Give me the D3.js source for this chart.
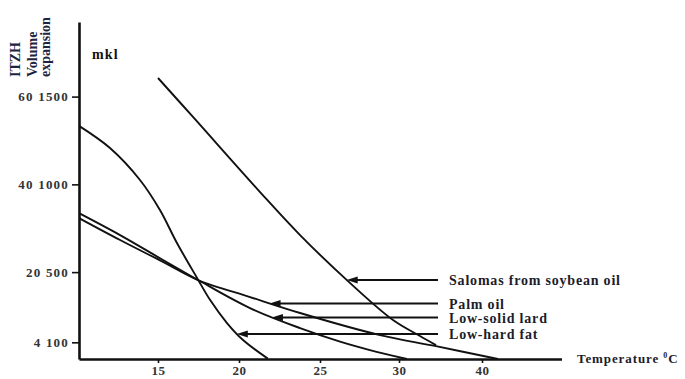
<!DOCTYPE html>
<html>
<head>
<meta charset="utf-8">
<script src="https://cdn.jsdelivr.net/npm/d3@7"></script>
<style>
  body { margin: 0; background: #fff; }
  svg text { font-family: "Liberation Serif", "Times New Roman", serif; font-weight: bold; }
</style>
</head>
<body>
<svg id="svg" width="685" height="379"></svg>
<script>
// data (temperature in degrees C, volume expansion in mkl)
const xTicks = [15, 20, 25, 30, 40];
const yTicksVolume = [1500, 1000, 500, 100];
const yTicksItzh = [60, 40, 20, 4];

const seriesNames = ["Salomas from soybean oil", "Palm oil", "Low-solid lard", "Low-hard fat"];

const salomasTemp = [15, 17.16, 21.3, 23.77, 26.84, 29.62, 32.53, 34.46];
const salomasVol  = [1606, 1384, 956, 711, 443, 227, 136, 84];

const palmTemp = [10, 12.6, 15.31, 17.47, 20.68, 23.77, 28.8, 34.46, 41.95];
const palmVol  = [808, 683, 558, 455, 358, 267, 141, 78, 5];

const lardTemp = [10, 12.6, 15.31, 17.47, 20.68, 23.77, 26.27, 28.16, 30.96];
const lardVol  = [836, 711, 569, 455, 295, 181, 104, 56, 5];

const hardTemp = [10, 11.96, 13.86, 15.12, 16.17, 17.41, 18.21, 19.26, 20.25, 21.78];
const hardVol  = [1333, 1207, 1025, 854, 666, 467, 342, 210, 113, 7];

const svg = d3.select("#svg");
const ink = "#111";

// temperature axis is not evenly spaced (30 -> 40 takes the same room as 5 degrees)
const x = d3.scaleLinear()
    .domain([10, 15, 20, 25, 30, 40, 49.7])
    .range([79, 158, 239, 320, 399, 482, 561.5]);
const y = d3.scaleLinear()
    .domain([5, 1925])
    .range([359, 22]);

/* axes */
const yAxis = svg.append("g")
    .attr("transform", "translate(79,0)")
    .call(d3.axisLeft(y)
        .tickValues(yTicksVolume)
        .tickSizeInner(7)
        .tickSizeOuter(0)
        .tickPadding(3)
        .tickFormat((d, i) => yTicksItzh[i] + " " + d));
yAxis.select(".domain").attr("stroke", ink).attr("stroke-width", 2.6);
yAxis.selectAll(".tick line").attr("stroke", ink).attr("stroke-width", 1.6);
yAxis.selectAll(".tick text")
    .attr("fill", "#333")
    .style("font-family", "Liberation Serif")
    .style("font-weight", "bold")
    .style("font-size", "13px")
    .style("letter-spacing", "1.2px");

const xAxis = svg.append("g")
    .attr("transform", "translate(0,359)")
    .call(d3.axisBottom(x)
        .tickValues(xTicks)
        .tickSizeInner(4)
        .tickSizeOuter(0)
        .tickPadding(3));
xAxis.select(".domain").attr("stroke", ink).attr("stroke-width", 2.6);
xAxis.selectAll(".tick line").attr("stroke", ink).attr("stroke-width", 1.6);
xAxis.selectAll(".tick text")
    .attr("fill", "#333")
    .style("font-family", "Liberation Serif")
    .style("font-weight", "bold")
    .style("font-size", "13px")
    .style("letter-spacing", "0.6px");

// axis titles
const tTitle = svg.append("text")
    .attr("x", 577).attr("y", 363)
    .attr("fill", "#1c1c2a")
    .style("font-size", "13px")
    .style("letter-spacing", "0.9px");
tTitle.append("tspan").text("Temperature ");
tTitle.append("tspan").attr("dy", -5).style("font-size", "8px").text("0");
tTitle.append("tspan").attr("dy", 5).text("C");

svg.append("text")
    .attr("x", 92).attr("y", 59)
    .attr("fill", "#111")
    .style("font-size", "14px")
    .style("letter-spacing", "1.2px")
    .text("mkl");

const titleLines = [["ITZH", 20], ["Volume", 37], ["expansion", 50]];
titleLines.forEach(t => {
    svg.append("text")
        .attr("transform", `translate(${t[1]},77) rotate(-90)`)
        .attr("fill", "#1d2440")
        .style("font-size", "14px")
        .text(t[0]);
});

/* curves */
const line = d3.line()
    .x(d => x(d[0]))
    .y(d => y(d[1]))
    .curve(d3.curveCatmullRom.alpha(0.5));

const series = [
    d3.zip(salomasTemp, salomasVol),
    d3.zip(palmTemp, palmVol),
    d3.zip(lardTemp, lardVol),
    d3.zip(hardTemp, hardVol)
];

const paths = svg.selectAll(".curve")
    .data(series)
    .join("path")
    .attr("class", "curve")
    .attr("d", line)
    .attr("fill", "none")
    .attr("stroke", ink)
    .attr("stroke-width", 1.9);

/* labels with arrows pointing at their curve */
const rowY = [280, 303.5, 317.5, 334];
const lineEnd = 438;

paths.each(function(d, i) {
    const p = this;
    const len = p.getTotalLength();
    // find where the curve crosses this label's row
    let best = null, bestDiff = Infinity;
    for (let s = 0; s <= len; s += 0.5) {
        const pt = p.getPointAtLength(s);
        const diff = Math.abs(pt.y - rowY[i]);
        if (diff < bestDiff) { bestDiff = diff; best = pt; }
    }
    const tip = best.x;
    svg.append("line")
        .attr("x1", tip + 6).attr("y1", rowY[i])
        .attr("x2", lineEnd).attr("y2", rowY[i])
        .attr("stroke", ink)
        .attr("stroke-width", 2);
    svg.append("path")
        .attr("d", `M${tip},${rowY[i]} L${tip + 11},${rowY[i] - 3.5} L${tip + 11},${rowY[i] + 3.5} Z`)
        .attr("fill", ink);
    svg.append("text")
        .attr("x", 449).attr("y", rowY[i] + 5)
        .attr("fill", "#1c1c2a")
        .style("font-size", "14px")
        .style("letter-spacing", "0.8px")
        .text(seriesNames[i]);
});
</script>
</body>
</html>
